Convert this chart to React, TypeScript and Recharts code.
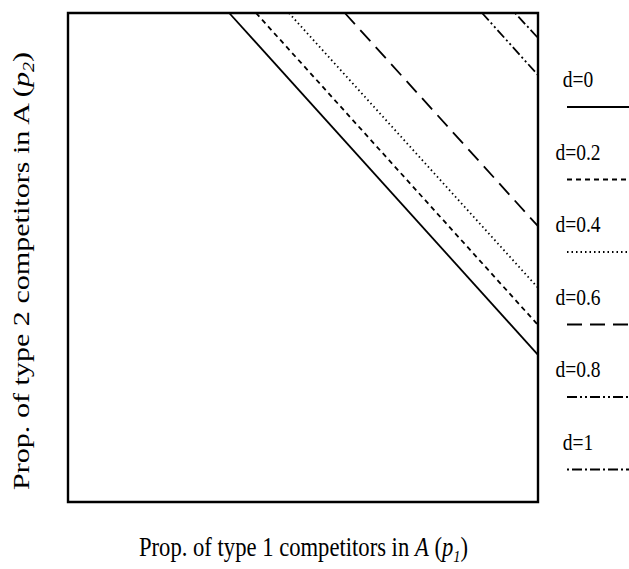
import React from 'react';
import { LineChart, Line, XAxis, YAxis, ReferenceArea } from 'recharts';

// d values and the two ends of each boundary line (top edge, right edge), unit square
const dLabels = ['d=0', 'd=0.2', 'd=0.4', 'd=0.6', 'd=0.8', 'd=1'];
const topP1 = [0.343, 0.4, 0.47, 0.589, 0.881, 0.951];
const rightP2 = [0.301, 0.362, 0.438, 0.564, 0.873, 0.949];
const dashes = ['', '5 4', '1.5 3', '15 8', '10 3 2 3 2 3', '2 3 10 3'];

const series = dLabels.map((name, i) => ({
  name,
  dash: dashes[i],
  data: [
    { x: topP1[i], y: 1 },
    { x: 1, y: rightP2[i] },
  ],
}));

const W = 629;
const H = 569;
const margin = { top: 13, right: 91, bottom: 67, left: 68 };

// key on the right, outside the plot box
const LegendBox = () => (
  <svg width={89} height={450} style={{ position: 'absolute', left: 540, top: 57 }}>
    {series.map((s, i) => {
      const y = i * 72.5;
      return (
        <g key={s.name}>
          <text
            transform={`translate(38,${y + 30}) scale(1,1.15)`}
            textAnchor="middle"
            fontFamily="'Liberation Serif', serif"
            fontSize={19.5}
            fill="#000"
          >
            {s.name}
          </text>
          <line
            x1={27}
            x2={95}
            y1={y + 50}
            y2={y + 50}
            stroke="#000"
            strokeWidth={1.8}
            strokeDasharray={s.dash || undefined}
          />
        </g>
      );
    })}
  </svg>
);

export default function App() {
  return (
    <div style={{ position: 'absolute', left: 0, top: 0, width: W, height: H, background: '#fff' }}>
      <LineChart width={W} height={H} margin={margin}>
        <XAxis dataKey="x" type="number" domain={[0, 1]} hide />
        <YAxis dataKey="y" type="number" domain={[0, 1]} hide />
        <ReferenceArea x1={0} x2={1} y1={0} y2={1} stroke="#000" strokeWidth={2.4} fill="none" fillOpacity={0} />
        {series.map((s) => (
          <Line
            key={s.name}
            data={s.data}
            dataKey="y"
            name={s.name}
            stroke="#000"
            strokeWidth={1.8}
            strokeDasharray={s.dash || undefined}
            dot={false}
            activeDot={false}
            isAnimationActive={false}
          />
        ))}
      </LineChart>
      <LegendBox />
      <svg
        width={W}
        height={H}
        style={{ position: 'absolute', left: 0, top: 0, pointerEvents: 'none' }}
        fontFamily="'Liberation Serif', serif"
      >
        <g transform="translate(0,556) scale(1,1.22)">
          <text x={139} y={0} fontSize={22} textLength={329} lengthAdjust="spacingAndGlyphs" fill="#000">
            Prop. of type 1 competitors in <tspan fontStyle="italic">A</tspan> (<tspan fontStyle="italic">p</tspan>
            <tspan fontStyle="italic" fontSize={14} dy={5}>1</tspan>
            <tspan dy={-5}>)</tspan>
          </text>
        </g>
        <text
          transform="translate(29,271) rotate(-90)"
          x={-219}
          y={0}
          fontSize={24}
          textLength={438}
          lengthAdjust="spacingAndGlyphs"
          fill="#000"
        >
          Prop. of type 2 competitors in A (<tspan fontStyle="italic">p</tspan>
          <tspan fontStyle="italic" fontSize={16} dy={5}>2</tspan>
          <tspan dy={-5}>)</tspan>
        </text>
      </svg>
    </div>
  );
}
